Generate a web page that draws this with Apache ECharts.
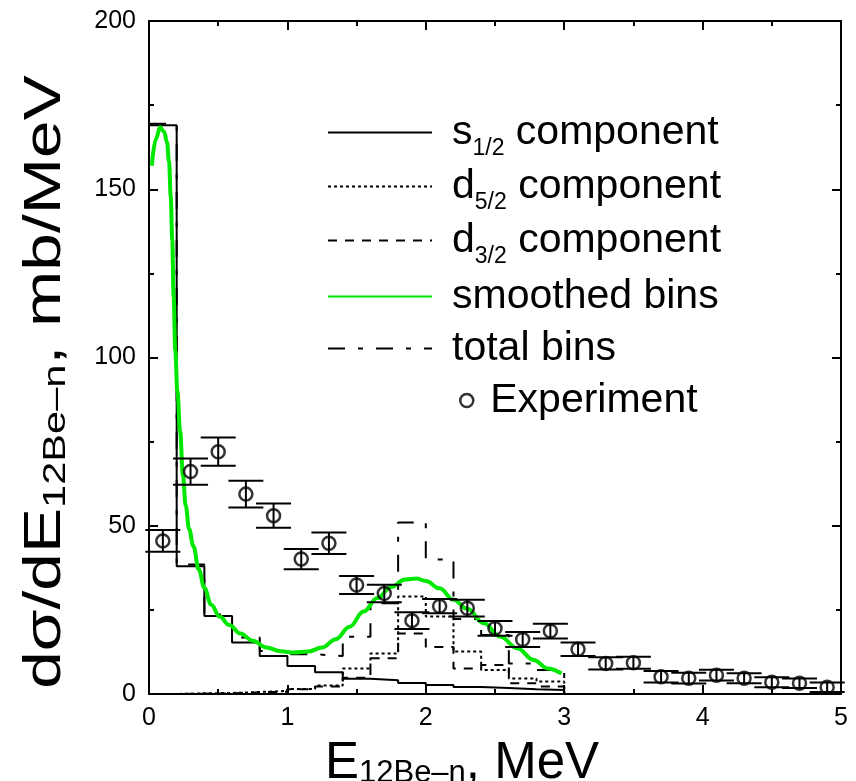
<!DOCTYPE html>
<html><head><meta charset="utf-8">
<script src="https://cdn.jsdelivr.net/npm/echarts@6/dist/echarts.min.js"></script>
<style>html,body{margin:0;padding:0;background:#fff}#c{width:856px;height:781px}</style>
</head><body><div id="c"></div>
<script>
// ---- data ----
const binLeft = [0, 0.2, 0.4, 0.6, 0.8, 1.0, 1.2, 1.4, 1.6, 1.8, 2.0, 2.2, 2.4, 2.6, 2.8];
const binEnd = 3.0;
const s12 = [169, 38, 23.2, 15.3, 11.3, 8.3, 6.5, 4.5, 4.1, 3.3, 2.7, 2.1, 1.8, 1.4, 1.2];
const d52 = [0, 0.2, 0.3, 0.6, 0.9, 1.5, 2.5, 7.6, 12, 29, 23, 12.6, 7.1, 4.6, 3.7];
const d32 = [0, 0.1, 0.2, 0.5, 0.7, 1.4, 2.2, 4.8, 10.6, 18, 14, 7.6, 8.6, 3.2, 2.2];
const totalBins = [169.5, 38.5, 23.6, 16.8, 12.8, 11.8, 11.3, 17, 27, 51, 40, 22.3, 17.5, 9.1, 7.1];
const smoothX = [0.02,0.05,0.08,0.11,0.13,0.145,0.157,0.168,0.178,0.19,0.205,0.225,0.245,0.265,0.29,0.32,0.36,0.40,0.45,0.51,0.58,0.66,0.75,0.85,0.95,1.05,1.15,1.25,1.35,1.45,1.55,1.65,1.75,1.85,1.93,2.0,2.1,2.2,2.3,2.42,2.54,2.66,2.78,2.88,2.98];
const smoothY = [157,165,168.4,167,164,158,148,135,118,102,90,78,65,56,49,44,37,31.5,26.5,23,20.5,18,15.8,13.8,12.7,12.3,12.6,13.8,16.3,20,24.5,28.5,31.8,34,34.3,33.6,31.4,28,25.3,21,17,13.6,10.1,7.6,6.1];
const expX = [0.1,0.3,0.5,0.7,0.9,1.1,1.3,1.5,1.7,1.9,2.1,2.3,2.5,2.7,2.9,3.1,3.3,3.5,3.7,3.9,4.1,4.3,4.5,4.7,4.9];
const expY = [45.5,66.1,72,59.4,53,40.1,44.8,32.4,29.9,21.8,26.1,25.5,19.5,16.2,18.7,13.3,9.1,9.3,5.1,4.7,5.6,4.7,3.5,3.2,2.0];
const expErr = [3.2,3.9,4.2,4.0,3.6,3.0,3.2,2.7,2.6,2.5,2.1,2.5,2.2,2.2,2.2,2.0,1.8,1.8,1.7,1.6,1.6,1.5,1.5,1.4,1.4];
const xTickLabels = ['0','1','2','3','4','5'];
const yTickLabels = ['0','50','100','150','200'];
const seriesNames = ['s1/2 component','d5/2 component','d3/2 component','smoothed bins','total bins','Experiment'];

// ---- build ----
const FONT = 'Liberation Sans, Arial, Helvetica, sans-serif';
function histo(vals){ const p = binLeft.map((x,i)=>[x, vals[i]]); p.push([binEnd, 0]); return p; }
const chart = echarts.init(document.getElementById('c'), null, {renderer:'canvas'});

const legRich = {
  m: {fontSize: 41, lineHeight: 56, fontFamily: FONT, color: '#000', verticalAlign: 'middle'},
  sub: {fontSize: 23, lineHeight: 24, fontFamily: FONT, color: '#000', verticalAlign: 'bottom'}
};
function legFmt(name){
  const m = name.match(/^([sd])(\d\/2)( component)$/);
  if (m) return '{m|' + m[1] + '}{sub|' + m[2] + '}{m|' + m[3] + '}';
  return '{m|' + name + '}';
}
const rowsY = [133, 187, 241, 297, 349, 401];
const legends = seriesNames.map((n, i) => {
  const isExp = n === 'Experiment';
  return {
    data: [n], orient: 'vertical', padding: 0,
    left: isExp ? 459 : 327, top: rowsY[i] - 21,
    itemWidth: isExp ? 13 : 104, itemHeight: isExp ? 13 : 14,
    selectedMode: false, formatter: legFmt,
    itemStyle: isExp ? {color: 'rgba(0,0,0,0)', borderColor: '#000', borderWidth: 2.5} : {opacity: 0},
    textStyle: {padding: [0,0,0, isExp ? 12 : 15], rich: legRich}
  };
});

const axisCommon = {
  axisLine: {show: true, onZero: false, lineStyle: {color: '#000', width: 2}},
  axisTick: {show: true, inside: true, length: 9, lineStyle: {color: '#000', width: 2}},
  minorTick: {show: true, splitNumber: 2, length: 5, lineStyle: {color: '#000', width: 2}},
  splitLine: {show: false}, minorSplitLine: {show: false}
};

const xName = '{m|E}{sub|12Be\u2013n}{m|, MeV}';
const yName = '{m|d\u03c3/dE}{sub|12Be\u2013n}{m|, mb/MeV}';

const option = {
  backgroundColor: '#fff',
  animation: false,
  legend: legends,
  grid: {left: 149, top: 21, right: 15, bottom: 87, containLabel: false, outerBoundsMode: 'none'},
  graphic: [{
    type: 'text', x: 46, y: 382, rotation: Math.PI / 2, scaleX: 1.3, scaleY: 1,
    style: {text: yName, align: 'center', verticalAlign: 'middle', rich: {
      m: {fontSize: 52, lineHeight: 52, fontFamily: FONT, fill: '#000', verticalAlign: 'middle'},
      sub: {fontSize: 32, lineHeight: 32, fontFamily: FONT, fill: '#000', verticalAlign: 'bottom', padding: [24,0,0,0]}
    }}
  }],
  xAxis: [
    Object.assign({type: 'value', min: 0, max: 5, interval: 1, position: 'bottom',
      axisLabel: {fontSize: 25, color: '#000', fontFamily: FONT, margin: 12,
        formatter: v => xTickLabels[Math.round(v)]},
      name: xName, nameLocation: 'middle', nameGap: 42,
      nameTextStyle: {padding: [0, 66, 0, 0], rich: {
        m: {fontSize: 51, lineHeight: 50, fontFamily: FONT, color: '#000', verticalAlign: 'middle'},
        sub: {fontSize: 31, lineHeight: 30, fontFamily: FONT, color: '#000', verticalAlign: 'bottom', padding: [22,0,0,0]}
      }}}, axisCommon),
    Object.assign({type: 'value', min: 0, max: 5, interval: 1, position: 'top',
      axisLabel: {show: false}}, axisCommon)
  ],
  yAxis: [
    Object.assign({type: 'value', min: 0, max: 200, interval: 50, position: 'left',
      axisLabel: {fontSize: 25, color: '#000', fontFamily: FONT, margin: 13,
        formatter: v => yTickLabels[Math.round(v/50)]}}, axisCommon),
    Object.assign({type: 'value', min: 0, max: 200, interval: 50, position: 'right',
      axisLabel: {show: false}}, axisCommon)
  ],
  series: [
    {name: 'total bins', type: 'line', step: 'end', symbol: 'none', data: histo(totalBins), z: 2,
      lineStyle: {color: '#000', width: 2, type: [17, 13, 5, 13]}, itemStyle: {color: '#000'}},
    {name: 'd3/2 component', type: 'line', step: 'end', symbol: 'none', data: histo(d32), z: 2,
      lineStyle: {color: '#000', width: 2, type: [9, 8]}, itemStyle: {color: '#000'}},
    {name: 'd5/2 component', type: 'line', step: 'end', symbol: 'none', data: histo(d52), z: 2,
      lineStyle: {color: '#000', width: 2, type: [3, 3]}, itemStyle: {color: '#000'}},
    {name: 's1/2 component', type: 'line', step: 'end', symbol: 'none', data: histo(s12), z: 3,
      lineStyle: {color: '#000', width: 2}, itemStyle: {color: '#000'}},
    {name: 'smoothed bins', type: 'line', symbol: 'none', smooth: 0.4, smoothMonotone: 'x', z: 4,
      data: smoothX.map((x, i) => [x, smoothY[i]]),
      lineStyle: {color: '#00e800', width: 4}, itemStyle: {color: '#00e800'}},
    {name: 'errbars', type: 'custom', z: 5, clip: false,
      data: expX.map((x, i) => [x, expY[i], expErr[i]]),
      encode: {x: 0, y: 1},
      renderItem: function(params, api){
        const x = api.value(0), y = api.value(1), e = api.value(2);
        const t = api.coord([x, y + e]), b = api.coord([x, y - e]);
        const cap = 17.5, st = {stroke: '#000', lineWidth: 2};
        return {type: 'group', children: [
          {type: 'line', shape: {x1: t[0], y1: t[1], x2: b[0], y2: b[1]}, style: st},
          {type: 'line', shape: {x1: t[0]-cap, y1: t[1], x2: t[0]+cap, y2: t[1]}, style: st},
          {type: 'line', shape: {x1: b[0]-cap, y1: b[1], x2: b[0]+cap, y2: b[1]}, style: st}
        ]};
      }},
    {name: 'Experiment', type: 'scatter', symbol: 'circle', symbolSize: 13, z: 6,
      data: expX.map((x, i) => [x, expY[i]]),
      itemStyle: {color: 'rgba(0,0,0,0)', borderColor: '#000', borderWidth: 2.5}}
  ]
};
chart.setOption(option);
</script></body></html>
